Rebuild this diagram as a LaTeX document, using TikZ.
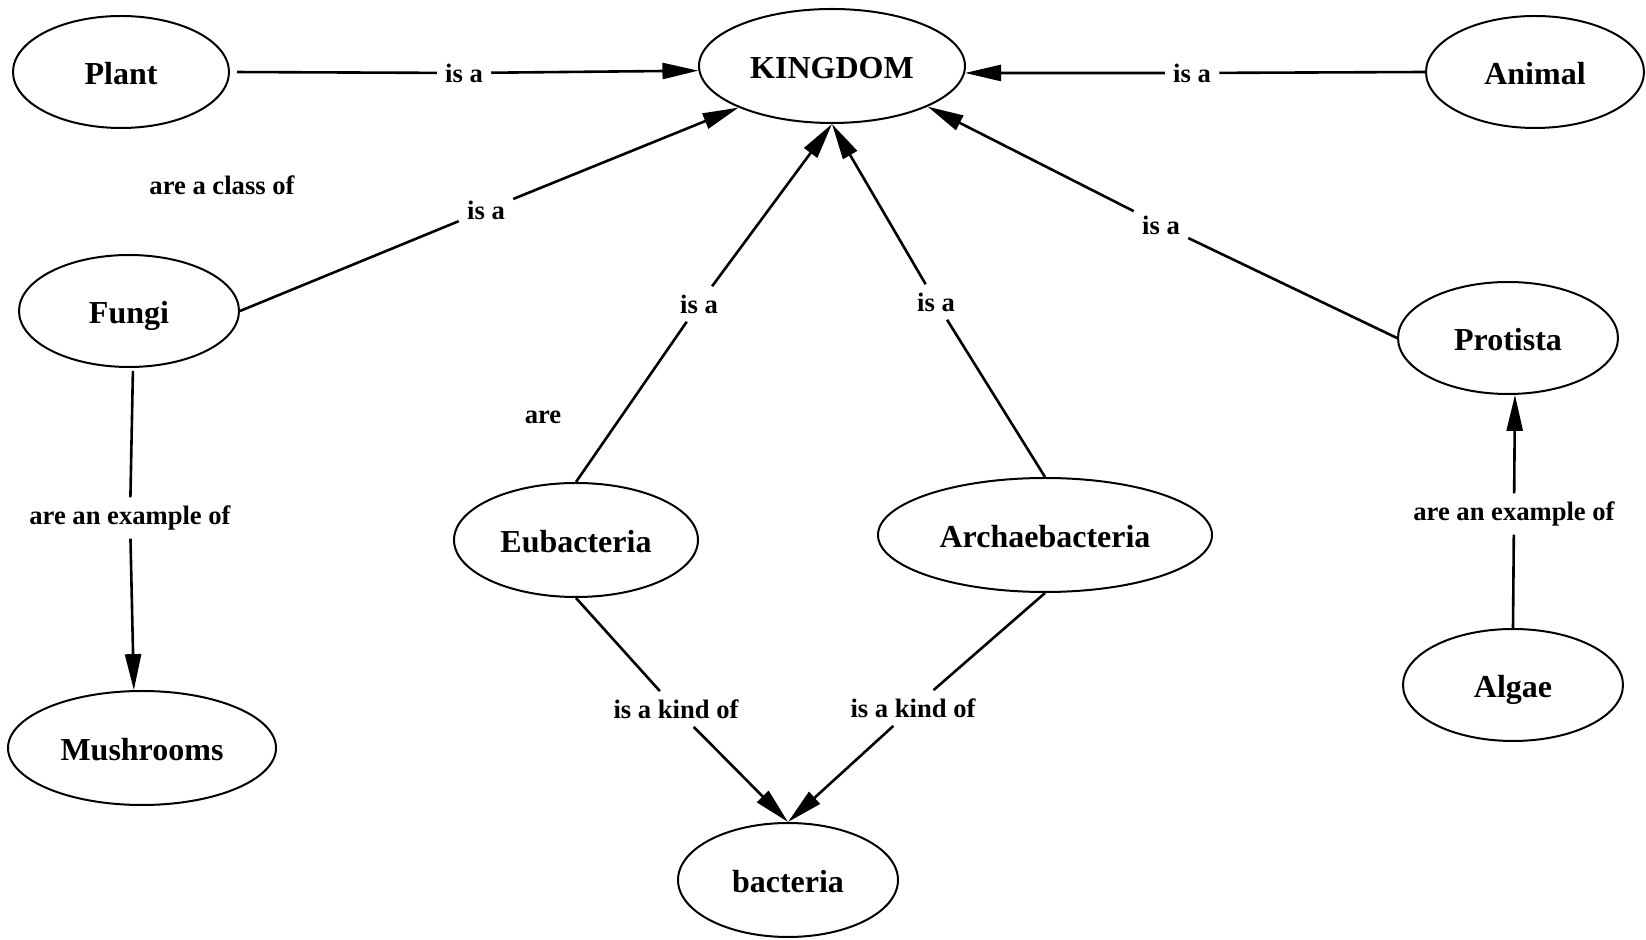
\documentclass[tikz,border=0pt]{standalone}
\usepackage{fontspec}
\setmainfont{Liberation Serif}
\usetikzlibrary{arrows.meta,shapes.geometric}
\begin{document}
\begin{tikzpicture}[x=0.5pt,y=-0.5pt,
  concept/.style={ellipse,draw,line width=1pt,inner sep=0pt,
    text height=12.5pt,text depth=0pt,
    font=\fontsize{16}{19}\selectfont\bfseries},
  link/.style={inner sep=4pt,font=\fontsize{13.3}{16}\selectfont\bfseries},
  rel/.style={line width=1.3pt},
  relarrow/.style={line width=1.3pt,-{Triangle[length=18pt,width=8pt]}}]
\useasboundingbox (0,0) rectangle (1646,940);

% concepts
\node[concept,minimum width=108pt,minimum height=56pt] (plant)    at (121,72)   {Plant};
\node[concept,minimum width=133pt,minimum height=57pt] (kingdom)  at (832,66)   {KINGDOM};
\node[concept,minimum width=109pt,minimum height=56pt] (animal)   at (1535,72)  {Animal};
\node[concept,minimum width=110pt,minimum height=56pt] (fungi)    at (129,311)  {Fungi};
\node[concept,minimum width=110pt,minimum height=56pt] (protista) at (1508,338) {Protista};
\node[concept,minimum width=122pt,minimum height=57pt] (eu)       at (576,540)  {Eubacteria};
\node[concept,minimum width=167pt,minimum height=57pt] (archae)   at (1045,535) {Archaebacteria};
\node[concept,minimum width=134pt,minimum height=57pt] (mush)     at (142,748)  {Mushrooms};
\node[concept,minimum width=110pt,minimum height=56pt] (algae)    at (1513,685) {Algae};
\node[concept,minimum width=110pt,minimum height=57pt] (bacteria) at (788,880)  {bacteria};

% linking phrases
\node[link] (l1)  at (464,73)   {is a};
\node[link] (l2)  at (1192,73)  {is a};
\node[link] (l3)  at (486,210)  {is a};
\node[link] (l4)  at (699,304)  {is a};
\node[link] (l5)  at (936,302)  {is a};
\node[link] (l6)  at (1161,225) {is a};
\node[link] (l7)  at (130,518)  {are an example of};
\node[link] (l8)  at (1514,514) {are an example of};
\node[link] (l9)  at (676,709)  {is a kind of};
\node[link] (l10) at (913,708)  {is a kind of};
\node[link] (lc)  at (222,185)  {are a class of};
\node[link] (la)  at (543,417)  {are};

% propositions
\draw[rel,shorten <=3.5pt] (plant.east) -- (l1);
\draw[relarrow] (l1) -- (kingdom.182);

\draw[rel] (animal.west) -- (l2);
\draw[relarrow] (l2) -- (kingdom.357);

\draw[rel] (fungi.east) -- (l3);
\draw[relarrow] (l3) -- (kingdom.204);

\draw[rel] (eu.north) -- (l4);
\draw[relarrow] (l4) -- (kingdom.south);

\draw[rel] (archae.north) -- (l5);
\draw[relarrow] (l5) -- (kingdom.south);

\draw[rel] (protista.west) -- (l6);
\draw[relarrow] (l6) -- (kingdom.337);

\draw[rel,shorten <=1.5pt] (fungi.274) -- (l7);
\draw[relarrow] (l7) -- (mush.98);

\draw[rel] (algae.north) -- (l8);
\draw[relarrow] (l8) -- (protista.277);

\draw[rel] (eu.south) -- (l9);
\draw[relarrow] (l9) -- (bacteria.north);

\draw[rel] (archae.south) -- (l10);
\draw[relarrow] (l10) -- (bacteria.north);
\end{tikzpicture}
\end{document}
